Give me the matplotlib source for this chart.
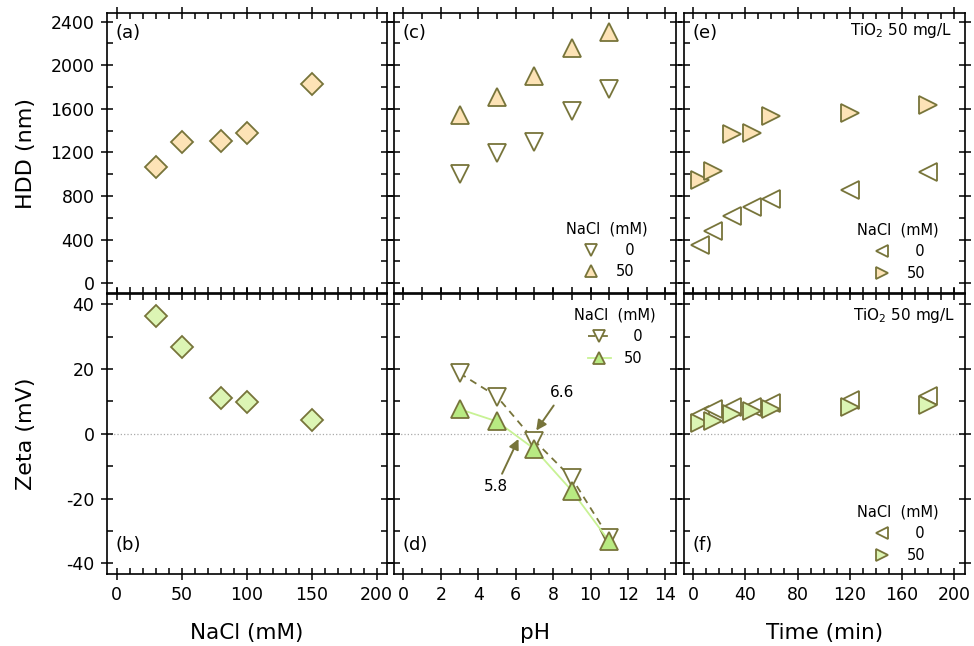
"""Six-panel HDD / zeta potential figure: NaCl, pH and time series."""

import matplotlib

matplotlib.use("Agg")
import matplotlib.pyplot as plt
from matplotlib.ticker import MultipleLocator

plt.rcParams["font.family"] = ["DejaVu Sans"]
plt.rcParams["axes.unicode_minus"] = False

# (a), (b): effect of NaCl
nacl = [30, 50, 80, 100, 150]
hdd_nacl = [1065, 1295, 1305, 1380, 1825]
zeta_nacl = [36.3, 26.8, 10.9, 9.9, 4.3]

# (c), (d): effect of pH, NaCl 0 and 50 mM
ph = [3, 5, 7, 9, 11]
hdd_ph_0 = [1005, 1190, 1295, 1580, 1785]
hdd_ph_50 = [1540, 1705, 1900, 2160, 2300]
zeta_ph_0 = [18.7, 11.5, -2.1, -13.7, -32.2]
zeta_ph_50 = [7.6, 3.8, -4.7, -17.6, -33.2]

# (e), (f): time course, TiO2 50 mg/L
time_min = [5, 15, 30, 45, 60, 120, 180]
hdd_t_0 = [350, 480, 615, 700, 775, 850, 1015]
hdd_t_50 = [945, 1030, 1365, 1380, 1535, 1565, 1630]
zeta_t_0 = [5.9, 7.6, 8.4, 8.4, 9.5, 10.5, 11.7]
zeta_t_50 = [3.3, 4.0, 6.2, 6.9, 7.6, 8.2, 8.9]

OLIVE = "#77743a"
PEACH = "#fde3b6"
PALE_GREEN = "#dcf5b4"
GREEN = "#b8ea82"
LINE_GREEN = "#c8f294"

LEFTS = [107, 394, 684]
WIDTHS = [280, 281.7, 281]
TOPS = [13, 293.5]
HEIGHT = 280.5
W, H = 974, 646


def style(ax, xmaj, xmin, ymaj, ymin):
    ax.xaxis.set_major_locator(MultipleLocator(xmaj))
    ax.xaxis.set_minor_locator(MultipleLocator(xmin))
    ax.yaxis.set_major_locator(MultipleLocator(ymaj))
    ax.yaxis.set_minor_locator(MultipleLocator(ymin))
    ax.tick_params(which="both", top=True, right=True, labelsize=12.5,
                   width=1.1, color="black")
    ax.tick_params(which="major", direction="inout", length=8, pad=5)
    ax.tick_params(which="minor", direction="in", length=4)
    for sp in ax.spines.values():
        sp.set_linewidth(1.2)


def legend(ax, loc, anchor, ms=8):
    leg = ax.legend(title="NaCl  (mM)", loc=loc, bbox_to_anchor=anchor,
                    frameon=False, fontsize=10.5, title_fontsize=10.5,
                    borderpad=0, borderaxespad=0, labelspacing=0.45,
                    handletextpad=0.9, handlelength=1.6)
    for h in leg.legend_handles:
        h.set_markersize(ms)
    return leg


def main():
    fig = plt.figure(figsize=(W / 100, H / 100), dpi=100)
    axes = {}
    for r, top in enumerate(TOPS):
        for c, (left, width) in enumerate(zip(LEFTS, WIDTHS)):
            ax = fig.add_axes([left / W, 1 - (top + HEIGHT) / H,
                               width / W, HEIGHT / H])
            axes[r, c] = ax

    mk = dict(linestyle="none", markeredgecolor=OLIVE, markeredgewidth=1.3)
    tag = dict(fontsize=13, va="center")

    # (a)
    ax = axes[0, 0]
    ax.plot(nacl, hdd_nacl, marker="D", ms=11, markerfacecolor=PEACH, **mk)
    ax.text(0.03, 0.93, "(a)", transform=ax.transAxes, **tag)

    # (c)
    ax = axes[0, 1]
    ax.plot(ph, hdd_ph_0, marker="v", ms=13, markerfacecolor="white", label="\u20070", **mk)
    ax.plot(ph, hdd_ph_50, marker="^", ms=13, markerfacecolor=PEACH, label="50", **mk)
    ax.text(0.03, 0.93, "(c)", transform=ax.transAxes, **tag)
    legend(ax, "lower right", (0.90, 0.05))

    # (e)
    ax = axes[0, 2]
    ax.plot(time_min, hdd_t_0, marker="<", ms=13, markerfacecolor="white", label="\u20070", **mk)
    ax.plot(time_min, hdd_t_50, marker=">", ms=13, markerfacecolor=PEACH, label="50", **mk)
    ax.text(0.03, 0.93, "(e)", transform=ax.transAxes, **tag)
    ax.text(0.955, 0.936, "TiO$_2$ 50 mg/L", transform=ax.transAxes,
            fontsize=11, ha="right", va="center")
    legend(ax, "lower right", (0.905, 0.045))

    # (b)
    ax = axes[1, 0]
    ax.axhline(0, color="#aaaaaa", lw=0.9, ls=":", zorder=0)
    ax.plot(nacl, zeta_nacl, marker="D", ms=11, markerfacecolor=PALE_GREEN, **mk)
    ax.text(0.03, 0.103, "(b)", transform=ax.transAxes, **tag)

    # (d)
    ax = axes[1, 1]
    ax.axhline(0, color="#aaaaaa", lw=0.9, ls=":", zorder=0)
    ax.plot(ph, zeta_ph_0, color=OLIVE, ls=(0, (4, 3)), lw=1.3, marker="v", ms=13,
            markerfacecolor="white", markeredgecolor=OLIVE, markeredgewidth=1.3,
            label="\u20070")
    ax.plot(ph, zeta_ph_50, color=LINE_GREEN, ls="-", lw=1.3, marker="^", ms=13,
            markerfacecolor=GREEN, markeredgecolor=OLIVE, markeredgewidth=1.3,
            label="50")
    ax.text(0.03, 0.103, "(d)", transform=ax.transAxes, **tag)
    arrow = dict(arrowstyle="-|>", color=OLIVE, lw=1.4, mutation_scale=15,
                 shrinkA=2, shrinkB=0)
    ax.annotate("6.6", xy=(7.1, 1.0), xytext=(8.5, 12.6), fontsize=11,
                ha="center", va="center", arrowprops=arrow)
    ax.annotate("5.8", xy=(6.15, -1.6), xytext=(4.95, -16.3), fontsize=11,
                ha="center", va="center", arrowprops=arrow)
    legend(ax, "upper right", (0.93, 0.95), ms=9)

    # (f)
    ax = axes[1, 2]
    ax.axhline(0, color="#aaaaaa", lw=0.9, ls=":", zorder=0)
    ax.plot(time_min, zeta_t_0, marker="<", ms=13, markerfacecolor="white", label="\u20070", **mk)
    ax.plot(time_min, zeta_t_50, marker=">", ms=13, markerfacecolor=PALE_GREEN, label="50", **mk)
    ax.text(0.03, 0.103, "(f)", transform=ax.transAxes, **tag)
    ax.text(0.964, 0.923, "TiO$_2$ 50 mg/L", transform=ax.transAxes,
            fontsize=11, ha="right", va="center")
    legend(ax, "lower right", (0.905, 0.04))

    # axes limits, ticks, labels
    xlims = [(-7.5, 208), (-0.5, 14.55), (-7.1, 208.5)]
    xticks = [(50, 10), (2, 1), (40, 10)]
    xlabels = ["NaCl (mM)", "pH", "Time (min)"]
    for c in range(3):
        style(axes[0, c], *xticks[c], 400, 200)
        style(axes[1, c], *xticks[c], 20, 10)
        axes[0, c].set_ylim(-95, 2478)
        axes[1, c].set_ylim(-43.3, 43.3)
        for r in range(2):
            axes[r, c].set_xlim(*xlims[c])
            if c > 0:
                axes[r, c].tick_params(labelleft=False)
        axes[0, c].tick_params(labelbottom=False)
        axes[1, c].set_xlabel(xlabels[c], fontsize=15.5, labelpad=13)
    axes[0, 0].set_ylabel("HDD (nm)", fontsize=16)
    axes[1, 0].set_ylabel("Zeta (mV)", fontsize=16)
    for r in range(2):
        axes[r, 0].yaxis.set_label_coords(-0.255, 0.5)

    fig.savefig("out.png", dpi=100)


if __name__ == "__main__":
    main()
